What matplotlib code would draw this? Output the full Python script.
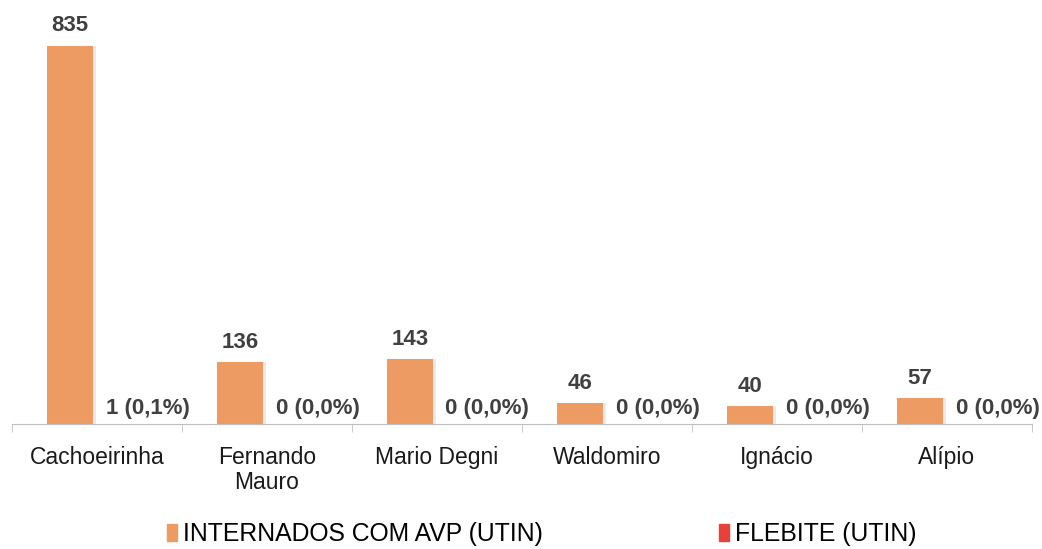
"""
Internados com AVP x flebite (UTIN) por hospital.
"""
import matplotlib
matplotlib.use('Agg')
import matplotlib.pyplot as plt
import numpy as np
from matplotlib.patches import Patch

plt.rcParams['font.family'] = ['Liberation Sans', 'DejaVu Sans']

hospitals = ['Cachoeirinha', 'Fernando\nMauro', 'Mario Degni', 'Waldomiro', 'Ignácio', 'Alípio']
internados = [835, 136, 143, 46, 40, 57]
flebite = [1, 0, 0, 0, 0, 0]
series_names = ['INTERNADOS COM AVP (UTIN)', 'FLEBITE (UTIN)']

orange = '#EE9B63'
red = '#E8413A'
label_color = '#404040'

fig = plt.figure(figsize=(10.42, 5.49), dpi=100)
ax = fig.add_axes([12 / 1042, 125 / 549, 1020 / 1042, 417 / 549])

x = np.arange(len(hospitals))
w = 0.27

# soft shadow to the right of the bars
ax.bar(x - 0.16 + 0.02, internados, width=w, color='#D6DCE4', alpha=0.6, zorder=1)
ax.bar(x - 0.16, internados, width=w, color=orange, zorder=2)
ax.bar(x + 0.18, flebite, width=w, color=red, zorder=2)

for xi, v in zip(x, internados):
    ax.text(xi - 0.16, v + 20, str(v), ha='center', va='bottom',
            fontsize=16, fontweight='bold', color=label_color)

for xi, v, n in zip(x, flebite, internados):
    txt = f'{v} ({v / n * 100:.1f}%)'.replace('.', ',')
    ax.text(xi + 0.05, v + 10, txt, ha='left', va='bottom',
            fontsize=16, fontweight='bold', color=label_color)

ax.set_xlim(-0.5, len(hospitals) - 0.5)
ax.set_ylim(0, 920)
ax.set_yticks([])
ax.set_xticks(x)
ax.set_xticklabels(hospitals, fontsize=16.5, color='#1a1a1a', linespacing=1.1)
ax.tick_params(axis='x', which='major', length=0, pad=16)
ax.set_xticks(np.arange(len(hospitals) + 1) - 0.5, minor=True)
ax.tick_params(axis='x', which='minor', length=6, color='#BFBFBF')

for side in ['top', 'right', 'left']:
    ax.spines[side].set_visible(False)
ax.spines['bottom'].set_color('#BFBFBF')

handles = [Patch(color=orange), Patch(color=red)]
fig.legend(handles, series_names, loc='lower center', bbox_to_anchor=(0.52, -0.035),
           ncol=2, frameon=False, fontsize=17.8, handlelength=0.4, handleheight=0.7,
           handletextpad=0.25, columnspacing=7.1)

fig.savefig('out.png', dpi=100)
